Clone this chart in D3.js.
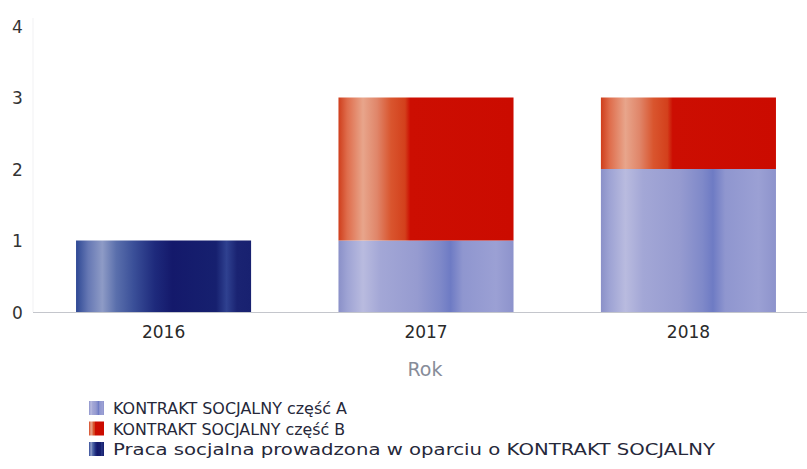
<!DOCTYPE html>
<html>
<head>
<meta charset="utf-8">
<script src="https://cdn.jsdelivr.net/npm/d3@7"></script>
<style>
  html, body { margin: 0; padding: 0; background: #ffffff; }
  svg { display: block; font-family: "DejaVu Sans", Verdana, sans-serif; }
</style>
</head>
<body>
<svg id="chart" width="807" height="469"></svg>
<script>
// ---- data ----
const years = ["2016", "2017", "2018"];
const seriesNames = [
  "KONTRAKT SOCJALNY część A",
  "KONTRAKT SOCJALNY część B",
  "Praca socjalna prowadzona w oparciu o KONTRAKT SOCJALNY"
];
const partA = [0, 1, 2];
const partB = [0, 2, 1];
const praca = [1, 0, 0];
const yTicks = [0, 1, 2, 3, 4];
const xTitle = "Rok";

// ---- styles ----
const gradStops = [
  // lavender (A)
  [[0, "#8a90c8"], [0.05, "#9ea3d4"], [0.14, "#b9bbdf"], [0.24, "#a3a7d6"], [0.45, "#969bd0"],
   [0.58, "#7f89c9"], [0.64, "#6e7bc4"], [0.71, "#8f96cf"], [0.9, "#9ba0d4"], [1, "#8d93cc"]],
  // red (B)
  [[0, "#cf3e1c"], [0.05, "#df6d4c"], [0.14, "#e8a58b"], [0.22, "#e0866a"], [0.3, "#d9552e"],
   [0.38, "#d3401c"], [0.41, "#cc0e02"], [1, "#cb0b00"]],
  // navy (Praca)
  [[0, "#2e4894"], [0.07, "#6678b4"], [0.15, "#8e9bc6"], [0.23, "#5a6fac"], [0.33, "#3a4f98"],
   [0.45, "#1e2a7c"], [0.55, "#14196b"], [0.8, "#16206f"], [0.86, "#2f4190"], [0.92, "#1a2372"], [1, "#182170"]]
];

const svg = d3.select("#chart");
const defs = svg.append("defs");
gradStops.forEach((stops, i) => {
  const g = defs.append("linearGradient").attr("id", "grad" + i)
    .attr("x1", "0").attr("x2", "1").attr("y1", "0").attr("y2", "0");
  stops.forEach(s => g.append("stop").attr("offset", s[0]).attr("stop-color", s[1]));
});

const plotLeft = 33, plotRight = 819, plotTop = 26, plotBottom = 312;

const x = d3.scaleBand().domain(years).range([plotLeft, plotRight])
  .paddingInner(0.333).paddingOuter(0.164);
const y = d3.scaleLinear().domain([0, 4]).range([plotBottom, plotTop]);

// faint plot border
svg.append("line").attr("x1", plotLeft).attr("x2", plotLeft)
  .attr("y1", 18).attr("y2", plotBottom).attr("stroke", "#f1f1f3").attr("stroke-width", 1);

// stacked data
const table = years.map((yr, i) => ({ year: yr, A: partA[i], B: partB[i], P: praca[i] }));
const keys = ["P", "A", "B"];
const keyToIdx = { A: 0, B: 1, P: 2 };
const stacked = d3.stack().keys(keys)(table);

svg.append("g").selectAll("g").data(stacked).join("g")
  .attr("fill", d => "url(#grad" + keyToIdx[d.key] + ")")
  .selectAll("rect").data(d => d.filter(v => v[1] - v[0] > 0)).join("rect")
  .attr("x", d => x(d.data.year))
  .attr("width", x.bandwidth())
  .attr("y", d => y(d[1]))
  .attr("height", d => y(d[0]) - y(d[1]));

// baseline
svg.append("line").attr("x1", plotLeft).attr("x2", 807)
  .attr("y1", plotBottom + 0.5).attr("y2", plotBottom + 0.5)
  .attr("stroke", "#c4c6cc").attr("stroke-width", 1.2);

// y axis
const yAxis = svg.append("g").attr("transform", `translate(${plotLeft},0)`)
  .call(d3.axisLeft(y).tickValues(yTicks).tickFormat(d3.format("d")).tickSize(0));
yAxis.select(".domain").remove();
yAxis.selectAll("text").attr("x", -21).attr("dy", "0.36em")
  .attr("text-anchor", "start").attr("fill", "#333")
  .style("font-size", "17px").style("font-family", "'DejaVu Sans', sans-serif");

// x axis
const xAxis = svg.append("g").attr("transform", `translate(0,${plotBottom})`)
  .call(d3.axisBottom(x).tickSize(0).tickPadding(14));
xAxis.select(".domain").remove();
xAxis.selectAll("text").attr("fill", "#2a2a2a")
  .style("font-size", "17px").style("font-family", "'DejaVu Sans', sans-serif");

// axis title
svg.append("text").attr("x", 425).attr("y", 376).attr("text-anchor", "middle")
  .attr("fill", "#878c99").style("font-size", "19px").text(xTitle);

// legend
const legendRows = [0, 1, 2];
const legendTargets = [234, 232, 602];
const lg = svg.append("g");
legendRows.forEach((i) => {
  const cy = 408 + i * 20.5;
  lg.append("rect").attr("x", 89).attr("y", cy - 7).attr("width", 15).attr("height", 14)
    .attr("fill", "url(#grad" + i + ")");
  lg.append("text").attr("x", 113).attr("y", cy + 6)
    .attr("fill", "#26283a").style("font-size", "16px")
    .attr("textLength", legendTargets[i]).attr("lengthAdjust", "spacingAndGlyphs")
    .text(seriesNames[i]);
});
</script>
</body>
</html>
